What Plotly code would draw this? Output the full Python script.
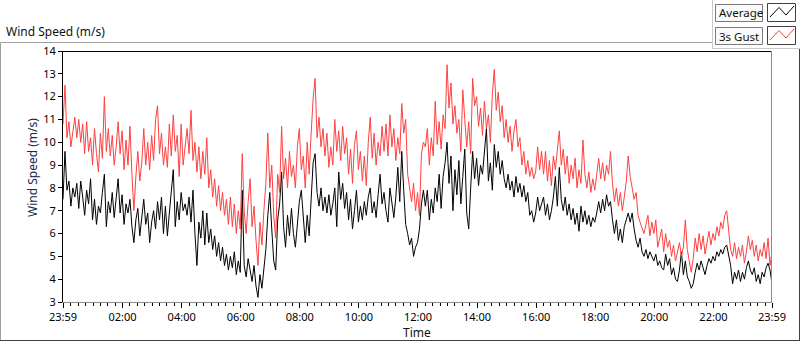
import plotly.graph_objects as go
import pandas as pd

# ---- data: one sample every 4 minutes ----
gust_a = [10.8, 12.5, 10.2, 10.9, 9.8, 10.4, 11.1, 10.2, 11.0, 10.0,
          10.8, 9.5, 10.9, 9.6, 10.2, 9.0, 10.6, 9.5, 8.7, 10.4,
          9.3, 12.0, 9.6, 10.6, 9.4, 10.3, 9.0, 9.8, 10.9, 9.5,
          10.5, 8.8, 10.1, 9.0, 10.7, 8.6, 7.0, 8.5, 9.6, 8.3,
          9.1, 10.6, 9.0, 10.0, 8.8, 10.3, 9.2, 11.0, 11.6, 9.5,
          10.4, 9.0, 9.8, 8.9, 10.8, 9.4, 11.2, 9.6, 10.3, 8.5,
          10.8, 9.0]
gust_b = [9.8, 10.6, 9.5, 11.4, 9.2, 10.0, 8.7, 9.8, 8.4, 9.6,
          8.6, 10.2, 8.0, 8.8, 7.6, 8.4, 7.2, 8.1, 7.0, 7.8,
          6.8, 7.5, 6.4, 7.6, 6.3, 7.3, 6.0, 7.0, 6.2, 9.5,
          7.0, 6.0, 7.4, 8.4, 6.3, 7.2, 5.7, 4.6, 6.5, 5.5,
          7.0, 8.2, 10.4, 8.0, 9.0, 6.8, 5.8, 8.6, 7.8, 10.7,
          8.4, 9.3, 8.0, 9.6, 8.5, 9.0, 8.0, 9.8, 10.6, 8.8]
gust_c = [9.4, 8.0, 10.0, 8.6, 10.4, 11.9, 12.8, 10.2, 11.1, 9.8,
          10.6, 9.4, 10.4, 8.9, 9.8, 9.0, 11.0, 9.6, 10.5, 9.2,
          10.7, 9.5, 10.2, 8.6, 9.7, 8.2, 9.9, 10.5, 8.8, 9.6,
          8.3, 9.4, 8.1, 10.0, 11.1, 9.3, 10.4, 9.0, 10.0, 9.4,
          10.7, 9.6, 10.8, 9.4, 11.2, 9.8, 10.6, 9.2, 10.2, 9.5,
          11.7, 10.4, 11.0, 8.6, 8.0, 7.4, 8.2, 7.0, 7.8, 6.8,
          9.5, 10.0]
gust_d = [9.8, 10.6, 9.0, 10.2, 9.4, 11.8, 9.9, 10.9, 9.7, 11.2,
          10.6, 13.4, 11.5, 12.6, 10.8, 11.6, 10.4, 11.0, 9.6, 12.3,
          11.0, 9.8, 10.9, 9.5, 12.8, 11.6, 12.0, 10.7, 11.5, 10.3,
          11.8, 10.6, 11.2, 10.0, 12.1, 13.2, 11.4, 12.2, 10.9, 11.6,
          10.2, 11.0, 10.0, 10.7, 9.6, 10.5, 11.0, 9.8, 10.2, 9.0,
          9.6, 8.6, 9.2, 8.5, 8.9, 8.4, 8.7, 9.8, 8.8, 9.6,
          8.6]
gust_e = [9.6, 8.3, 9.2, 8.1, 9.4, 8.8, 9.6, 10.5, 9.0, 9.7,
          8.6, 9.4, 8.2, 9.0, 8.4, 9.3, 8.0, 8.8, 8.2, 10.1,
          8.6, 8.0, 8.7, 7.8, 8.4, 7.9, 8.6, 9.3, 8.4, 9.1,
          8.3, 9.0, 8.6, 9.6, 8.2, 7.4, 8.0, 7.2, 7.8, 7.0,
          7.6, 8.3, 9.4, 8.5, 8.0, 7.5, 7.8, 6.8, 6.5, 6.2,
          6.0, 6.4, 6.8, 5.9, 6.5, 6.0, 6.6, 5.4, 5.8, 6.2,
          5.2]
gust_f = [6.0, 5.4, 5.7, 5.0, 5.5, 4.8, 5.2, 5.6, 5.0, 5.4,
          6.6, 5.3, 4.8, 4.3, 4.9, 5.8, 5.2, 6.0, 5.3, 5.9,
          5.1, 5.6, 6.1, 5.5, 6.0, 5.7, 6.3, 5.9, 6.5, 6.2,
          6.8, 7.0, 6.0, 5.3, 5.0, 5.6, 4.9, 5.4, 5.0, 5.5,
          4.7, 5.2, 5.9, 5.3, 5.7, 5.0, 5.5, 4.8, 5.3, 5.0,
          5.6, 4.9, 5.8, 4.6, 5.2]

avg_a = [7.5, 9.6, 7.9, 8.3, 7.2, 8.0, 7.6, 8.2, 7.1, 8.3,
         7.6, 6.8, 7.9, 7.3, 8.4, 6.6, 7.5, 6.4, 7.2, 6.9,
         7.8, 8.6, 6.3, 7.4, 6.9, 7.8, 6.7, 7.6, 8.4, 6.9,
         7.7, 6.4, 7.3, 6.9, 7.5, 6.3, 5.6, 6.6, 7.1, 5.9,
         6.8, 7.5, 6.4, 6.9, 5.6, 6.5, 7.0, 6.2, 7.4, 6.6,
         7.6, 6.0, 7.2, 5.9, 6.9, 7.7, 8.8, 6.3, 7.4, 6.6,
         7.8, 7.0]
avg_b = [7.3, 6.8, 7.6, 6.5, 7.9, 6.0, 4.6, 6.5, 5.8, 7.0,
         5.5, 6.9, 5.6, 6.2, 5.3, 5.9, 5.0, 5.6, 4.8, 5.4,
         4.6, 5.1, 4.4, 5.0, 4.5, 5.2, 4.2, 4.8, 4.3, 7.9,
         4.6, 4.1, 4.9, 4.4, 3.9, 4.6, 3.7, 3.2, 4.2, 3.6,
         4.5, 5.3, 6.8, 7.8, 6.2, 4.8, 4.4, 6.6, 7.3, 8.7,
         6.3, 5.4, 6.8, 5.9, 7.1, 6.0, 5.4, 6.6, 7.4, 7.9]
avg_c = [6.5, 5.6, 6.8, 5.9, 7.5, 9.1, 9.5, 7.8, 7.2, 8.0,
         7.0, 7.6, 6.9, 7.7, 6.8, 7.3, 8.0, 6.3, 8.7, 7.5,
         8.2, 7.1, 7.8, 6.6, 7.5, 6.2, 7.0, 7.9, 6.5, 7.2,
         6.6, 7.4, 6.8, 7.6, 8.0, 6.9, 7.4, 6.7, 7.7, 8.6,
         7.3, 7.8, 7.0, 6.5, 8.0, 7.2, 6.7, 7.6, 8.9, 7.4,
         9.6, 7.9, 6.4, 6.0, 5.5, 5.8, 5.0, 5.4, 5.6, 6.2,
         7.3, 7.9]
avg_d = [7.2, 7.9, 6.6, 7.5, 6.9, 8.0, 7.4, 8.6, 7.1, 8.5,
         9.1, 10.0, 8.2, 9.4, 7.0, 8.8, 7.7, 9.2, 7.3, 8.5,
         9.7, 6.9, 6.2, 8.0, 9.6, 8.4, 9.3, 8.1, 9.0, 8.6,
         9.8, 10.6, 8.3, 9.1, 7.9, 9.9, 8.9, 9.6, 8.6, 9.2,
         8.4, 8.0, 8.6, 7.9, 8.3, 7.6, 8.5, 7.8, 8.2, 7.6,
         8.1, 7.4, 7.8, 6.8, 7.0, 6.5, 6.9, 7.6, 7.0, 7.3,
         7.6]
avg_e = [6.8, 7.3, 6.6, 7.0, 7.6, 8.5, 7.2, 8.9, 7.5, 7.0,
         7.6, 6.8, 7.3, 6.6, 7.1, 6.4, 6.9, 6.1, 7.2, 6.5,
         7.0, 6.4, 6.8, 6.3, 6.7, 6.5, 6.9, 7.4, 6.9, 7.5,
         7.0, 7.7, 7.2, 7.4, 6.6, 6.0, 6.6, 5.7, 6.2, 5.6,
         6.3, 6.6, 6.9, 6.5, 6.9, 6.2, 5.7, 5.4, 5.8, 5.2,
         5.0, 5.3, 4.9, 5.2, 5.0, 4.8, 5.1, 4.6, 4.8, 4.5,
         4.4]
avg_f = [5.1, 4.6, 4.9, 4.2, 4.5, 4.0, 3.9, 4.4, 5.2, 4.2,
         4.8, 4.1, 3.9, 3.6, 3.8, 4.3, 4.7, 4.4, 4.8, 4.5,
         4.2, 4.6, 4.9, 4.7, 5.0, 4.8, 5.2, 5.0, 5.3, 5.1,
         5.4, 5.5, 5.0, 4.6, 3.8, 4.3, 4.0, 4.4, 3.9, 4.3,
         4.0, 4.5, 4.8, 4.4, 4.2, 4.5, 3.9, 4.2, 3.8, 4.3,
         4.1, 4.5, 4.7, 4.4, 3.8]

gust = gust_a + gust_b + gust_c + gust_d + gust_e + gust_f
average = avg_a + avg_b + avg_c + avg_d + avg_e + avg_f

start_time = "2024-01-01 23:59"
sample_step = "4min"
times = pd.date_range(start_time, periods=len(gust), freq=sample_step)

tick_text = ["23:59", "02:00", "04:00", "06:00", "08:00", "10:00", "12:00",
             "14:00", "16:00", "18:00", "20:00", "22:00", "23:59"]
tick_vals = ([pd.Timestamp("2024-01-01 23:59")]
             + [pd.Timestamp(f"2024-01-02 {h:02d}:00") for h in range(2, 24, 2)]
             + [pd.Timestamp("2024-01-02 23:59")])
y_ticks = [3, 4, 5, 6, 7, 8, 9, 10, 11, 12, 13, 14]

# ---- layout geometry ----
W, H = 800, 342
L, R, T, B = 63, 28, 51, 40
PW, PH = W - L - R, H - T - B


def px(x):
    return (x - L) / PW


def py(y):
    return (H - B - y) / PH


FONT = "Noto Sans"
fig = go.Figure()
fig.add_trace(go.Scatter(x=times, y=average, mode="lines", name="Average",
                         line=dict(color="#000000", width=1), showlegend=False))
fig.add_trace(go.Scatter(x=times, y=gust, mode="lines", name="3s Gust",
                         line=dict(color="#ff4040", width=1), showlegend=False))

shapes = []


def seg(x0, y0, x1, y1, color, w=1):
    shapes.append(dict(type="line", xref="paper", yref="paper",
                       x0=px(x0), y0=py(y0), x1=px(x1), y1=py(y1),
                       line=dict(color=color, width=w), layer="above"))


def box(x0, y0, x1, y1, color, fill="rgba(0,0,0,0)"):
    shapes.append(dict(type="rect", xref="paper", yref="paper",
                       x0=px(x0), y0=py(y0), x1=px(x1), y1=py(y1),
                       line=dict(color=color, width=1), fillcolor=fill, layer="above"))


# plot frame top (black) and right (gray)
seg(63, 51.5, 772, 51.5, "#000000")
seg(771.5, 51, 771.5, 302, "#8c8c8c")
# outer panel frame
seg(0.5, 42.5, 712, 42.5, "#a0a0a0")
seg(0.5, 42.5, 0.5, 341, "#a0a0a0")
seg(0, 340.5, 800, 340.5, "#404040")
seg(799.5, 48.5, 799.5, 341, "#404040")
# legend panel
seg(712.5, 0, 712.5, 48.5, "#c8c8c8")
seg(712.5, 48.5, 800, 48.5, "#c8c8c8")
box(715.5, 4.5, 762.5, 21.5, "#7a7a7a", "#fafafa")
box(767.5, 3.5, 795.5, 21.5, "#404040", "#ffffff")
box(715.5, 27.5, 762.5, 44.5, "#7a7a7a", "#fafafa")
box(767.5, 26.5, 795.5, 44.5, "#404040", "#ffffff")


def zig(dy, color):
    pts = [(770, 17 + dy), (779, 7.5 + dy), (786, 15 + dy), (794, 6 + dy)]
    path = "M " + " L ".join(f"{px(a):.5f},{py(b):.5f}" for a, b in pts)
    shapes.append(dict(type="path", xref="paper", yref="paper", path=path,
                       line=dict(color=color, width=1), layer="above"))


zig(0, "#000000")
zig(23, "#ff4040")

annotations = [
    dict(text="Wind Speed (m/s)", x=px(4), y=py(31), xref="paper", yref="paper",
         xanchor="left", yanchor="middle", showarrow=False,
         font=dict(family=FONT, size=12, color="#111111")),
    dict(text="Average", x=px(716.5), y=py(13), xref="paper", yref="paper",
         xanchor="left", yanchor="middle", showarrow=False,
         font=dict(family=FONT, size=11.5, color="#111111")),
    dict(text="3s Gust", x=px(716.5), y=py(36), xref="paper", yref="paper",
         xanchor="left", yanchor="middle", showarrow=False,
         font=dict(family=FONT, size=11.5, color="#111111")),
    dict(text="Wind Speed (m/s)", x=px(32), y=py(168), xref="paper", yref="paper",
         xanchor="center", yanchor="middle", textangle=-90, showarrow=False,
         font=dict(family=FONT, size=12, color="#1c2850")),
    dict(text="Time", x=px(417), y=py(332), xref="paper", yref="paper",
         xanchor="center", yanchor="middle", showarrow=False,
         font=dict(family=FONT, size=12, color="#111111")),
]

fig.update_layout(
    width=W, height=H,
    margin=dict(l=L, r=R, t=T, b=B, pad=0),
    paper_bgcolor="#ffffff", plot_bgcolor="#ffffff",
    shapes=shapes, annotations=annotations, showlegend=False,
    font=dict(family=FONT, size=11, color="#000000"),
    xaxis=dict(type="date", range=[tick_vals[0], tick_vals[-1]],
               tickmode="array", tickvals=tick_vals, ticktext=tick_text,
               ticks="outside", ticklen=5, tickwidth=1, tickcolor="#000000",
               showline=True, linecolor="#8c8c8c", linewidth=1,
               showgrid=False, zeroline=False,
               tickfont=dict(family=FONT, size=11, color="#000000"),
               minor=dict(ticks="outside", ticklen=3, tickcolor="#000000",
                          dtick=15 * 60 * 1000, tick0="2024-01-02 00:00",
                          showgrid=False)),
    yaxis=dict(range=[3, 14], tickmode="array", tickvals=y_ticks,
               ticks="outside", ticklen=4, tickwidth=1, tickcolor="#000000",
               showline=True, linecolor="#000000", linewidth=1,
               showgrid=False, zeroline=False,
               tickfont=dict(family=FONT, size=11, color="#000000")),
)

fig.write_html("out.html",
               config={"displayModeBar": False},
               post_script="document.body.style.margin='0';document.body.style.overflow='hidden';")
